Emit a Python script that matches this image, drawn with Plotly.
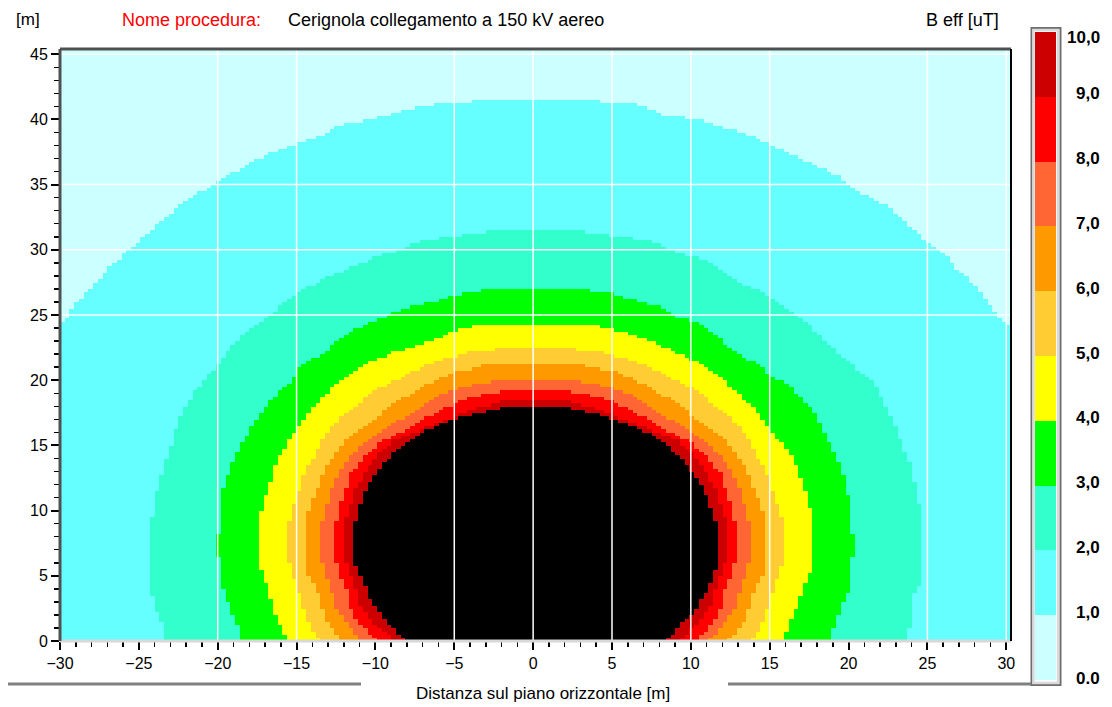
import numpy as np
import plotly.graph_objects as go

# ---------------- data ----------------
# Outlines (x [m], y [m]) of the regions where B eff >= k uT, k = 1..10
OUT_1 = list(zip(
    [-31, -30.0, -29.5, -29.1, -28.4, -27.8, -26.6, -25.7, -24.5, -23.4, -22.5, -21.0, -19.8, -18.5, -17.4, -15.4,
     -13.4, -12.0, -10.1, -9.0, -7.8, -6.5, -4.8, -1.4, 1.7, 5.1, 6.9, 8.1, 10.5, 12.3, 13.8, 15.1, 16.2, 17.7, 19.3,
     20.0, 21.2, 22.5, 23.4, 24.0, 24.7, 25.3, 26.4, 26.9, 27.9, 28.8, 29.4, 29.7, 30.1, 31, 31, -31],
    [24.3, 24.3, 24.9, 25.7, 26.7, 27.4, 29.0, 29.9, 31.2, 32.4, 33.3, 34.5, 35.3, 36.3, 37.0, 38.0, 38.8, 39.7, 40.0,
     40.4, 40.8, 41.1, 41.3, 41.6, 41.6, 41.3, 41.1, 40.4, 40.0, 39.3, 38.8, 38.0, 37.4, 36.6, 35.7, 35.0, 34.1, 33.3,
     32.4, 31.7, 30.9, 30.2, 29.3, 28.5, 27.4, 26.0, 25.0, 24.5, 24.3, 24.3, -1, -1]))

OUT_2 = list(zip(
    [-23.4, -23.4, -24.0, -24.3, -24.3, -24.0, -23.7, -23.3, -22.8, -22.5, -21.9, -21.3, -20.6, -20.0, -19.5, -18.9,
     -18.0, -16.2, -15.4, -14.5, -12.9, -11.4, -10.1, -8.7, -7.2, -4.8, -2.7, 3.0, 5.1, 7.6, 9.0, 11.1, 12.3, 13.2,
     14.1, 15.0, 16.2, 17.4, 18.0, 18.7, 19.8, 20.4, 21.6, 22.5, 23.1, 23.4, 24.0, 24.3, 24.6, 24.6, 24.0, 24.0, 23.7,
     23.7],
    [-1, 1.3, 2.6, 4.4, 8.5, 10.6, 12.3, 13.8, 15.6, 17.0, 18.3, 19.4, 20.3, 21.2, 22.0, 22.9, 23.9, 25.5, 26.3, 27.0,
     28.0, 28.7, 29.4, 29.9, 30.6, 31.1, 31.4, 31.4, 31.1, 30.6, 29.9, 29.1, 28.2, 27.4, 27.0, 26.3, 25.5, 24.4, 23.7,
     22.8, 21.6, 21.0, 19.8, 17.7, 16.2, 14.9, 13.3, 11.0, 9.9, 4.4, 3.5, 1.3, 0.8, -1]))

OUT_3 = list(zip(
    [-18.6, -18.6, -18.9, -19.2, -19.5, -19.8, -19.8, -20.1, -20.1, -19.8, -19.8, -19.5, -18.9, -18.0, -17.1, -16.2,
     -15.3, -14.7, -13.4, -12.5, -11.3, -10.5, -9.4, -8.1, -6.5, -5.6, -4.4, -2.7, 3.0, 4.8, 5.9, 6.9, 8.4, 9.0, 10.3,
     11.1, 12.0, 12.6, 14.1, 15.2, 16.5, 17.7, 18.4, 18.9, 19.3, 19.8, 20.0, 20.0, 20.4, 20.4, 20.0, 20.0, 19.8, 19.4,
     19.3, 18.9, 18.9],
    [-1, 0.8, 1.6, 2.6, 3.3, 4.5, 6.4, 6.4, 8.3, 8.3, 11.0, 12.3, 14.1, 16.2, 17.7, 19.1, 19.9, 21.2, 22.0, 22.9, 23.9,
     24.3, 24.9, 25.5, 26.0, 26.3, 26.7, 27.0, 27.0, 26.7, 26.3, 26.0, 25.5, 24.9, 24.5, 23.9, 23.0, 22.3, 21.3, 20.3,
     19.3, 17.7, 16.2, 14.9, 14.0, 12.3, 11.0, 8.3, 8.3, 6.4, 6.4, 3.9, 3.3, 2.6, 1.6, 0.8, -1]))

OUT_4 = list(zip(
    [-15.7, -15.7, -15.9, -16.2, -16.5, -16.8, -17.1, -17.4, -17.4, -17.1, -16.8, -16.5, -16.2, -15.5, -15.1, -14.1,
     -13.0, -12.2, -11.1, -10.0, -8.7, -7.5, -6.3, -5.3, -4.2, -2.7, 3.0, 4.5, 5.6, 6.7, 7.8, 9.0, 9.6, 10.5, 11.7,
     12.8, 14.1, 15.0, 16.0, 16.6, 17.0, 17.4, 17.7, 17.7, 17.4, 17.1, 16.7, 16.2, 15.9, 15.9],
    [-1, 0.2, 1.0, 1.6, 2.6, 3.9, 5.2, 5.6, 9.5, 10.5, 11.8, 12.9, 14.1, 15.3, 16.2, 17.7, 19.1, 20.0, 21.0, 21.6, 22.2,
     22.6, 23.1, 23.7, 24.1, 24.3, 24.3, 24.1, 23.7, 23.4, 22.8, 22.2, 21.9, 21.3, 20.3, 19.3, 17.7, 16.2, 14.9, 13.7,
     12.3, 11.0, 9.5, 5.4, 5.2, 3.9, 2.6, 1.3, 0.2, -1]))

OUT_5 = [(-13.5, -1), (-13.5, 0.0), (-14.2, 1.3), (-14.6, 2.6), (-14.9, 3.9), (-15.3, 5.2), (-15.5, 6.4),
         (-15.5, 9.0), (-15.2, 10.3), (-14.8, 11.6), (-14.5, 12.9), (-13.9, 14.1), (-13.4, 15.4), (-12.6, 16.7),
         (-11.6, 17.7), (-10.8, 18.5), (-9.9, 19.3), (-8.7, 20.0), (-7.6, 20.7), (-6.8, 21.2), (-5.7, 21.6),
         (-4.0, 22.2), (-2.3, 22.4),
         (2.6, 22.4), (4.3, 22.2), (6.0, 21.6), (7.1, 21.2), (7.9, 20.7), (9.0, 20.0), (10.2, 19.3), (11.1, 18.5),
         (11.9, 17.7), (12.9, 16.7), (13.7, 15.4), (14.2, 14.1), (14.8, 12.9), (15.1, 11.6), (15.5, 10.3),
         (15.9, 9.0), (15.9, 6.4), (15.6, 5.2), (15.2, 3.9), (14.9, 2.6), (14.5, 1.3), (13.8, 0.0), (13.8, -1)]

OUT_6 = [(-12.2, -1), (-12.2, 0.0), (-13.0, 1.3), (-13.4, 2.6), (-13.7, 3.9), (-14.3, 5.2), (-14.5, 6.4),
         (-14.5, 9.0), (-14.2, 10.3), (-13.7, 11.6), (-13.3, 12.9), (-12.7, 14.1), (-11.9, 15.4), (-10.8, 16.5),
         (-9.9, 17.2), (-9.1, 18.0), (-8.3, 18.6), (-7.4, 19.3), (-6.4, 19.9), (-5.1, 20.6), (-3.9, 20.9),
         (-2.9, 21.2),
         (3.2, 21.2), (4.2, 20.9), (5.4, 20.6), (6.7, 19.9), (7.7, 19.3), (8.6, 18.6), (9.4, 18.0), (10.2, 17.2),
         (11.1, 16.5), (12.2, 15.4), (13.0, 14.1), (13.6, 12.9), (14.0, 11.6), (14.5, 10.3), (14.8, 9.0),
         (14.8, 6.4), (14.6, 5.2), (14.0, 3.9), (13.7, 2.6), (13.3, 1.3), (12.3, 0.0), (12.3, -1)]

OUT_7 = [(-10.9, -1), (-10.9, 0.0), (-11.8, 1.3), (-12.5, 2.6), (-12.8, 3.9), (-13.2, 5.2), (-13.4, 6.4),
         (-13.4, 9.0), (-13.1, 10.3), (-12.8, 11.6), (-12.3, 12.9), (-11.6, 14.1), (-10.6, 15.4), (-9.1, 16.5),
         (-8.1, 17.2), (-7.0, 18.0), (-6.5, 18.5), (-5.7, 19.0), (-4.4, 19.5), (-2.3, 20.0),
         (2.6, 20.0), (4.7, 19.5), (6.0, 19.0), (6.8, 18.5), (7.3, 18.0), (8.4, 17.2), (9.4, 16.5), (10.9, 15.4),
         (11.9, 14.1), (12.6, 12.9), (13.1, 11.6), (13.4, 10.3), (13.7, 9.0), (13.7, 6.4), (13.5, 5.2),
         (13.1, 3.9), (12.8, 2.6), (12.1, 1.3), (11.1, 0.0), (11.1, -1)]

OUT_8 = [(-9.9, -1), (-9.9, 0.0), (-11.0, 1.3), (-11.6, 2.6), (-11.8, 3.9), (-12.3, 5.2), (-12.5, 6.4),
         (-12.5, 9.0), (-12.3, 10.3), (-11.9, 11.6), (-11.6, 12.9), (-10.7, 14.1), (-9.5, 15.4), (-8.0, 16.2),
         (-7.0, 17.0), (-6.1, 17.6), (-4.9, 18.3), (-3.6, 18.8), (-1.7, 19.2),
         (2.0, 19.2), (3.9, 18.8), (5.2, 18.3), (6.4, 17.6), (7.3, 17.0), (8.3, 16.2), (9.8, 15.4), (11.0, 14.1),
         (11.9, 12.9), (12.2, 11.6), (12.6, 10.3), (12.8, 9.0), (12.8, 6.4), (12.6, 5.2), (12.1, 3.9),
         (11.9, 2.6), (11.3, 1.3), (10.3, 0.0), (10.3, -1)]

OUT_9 = [(-8.8, -1), (-8.8, 0.0), (-10.0, 1.3), (-10.9, 2.6), (-11.2, 3.9), (-11.6, 5.2), (-12.0, 6.4),
         (-12.0, 9.0), (-11.6, 10.3), (-11.3, 11.6), (-10.7, 12.9), (-10.0, 14.1), (-8.9, 15.4), (-6.5, 16.5),
         (-5.5, 17.0), (-4.4, 17.5), (-3.2, 18.0), (-1.7, 18.5),
         (2.0, 18.5), (3.5, 18.0), (4.7, 17.5), (5.8, 17.0), (6.8, 16.5), (9.2, 15.4), (10.3, 14.1), (11.0, 12.9),
         (11.6, 11.6), (11.9, 10.3), (12.3, 9.0), (12.3, 6.4), (11.9, 5.2), (11.5, 3.9), (11.2, 2.6),
         (10.3, 1.3), (9.3, 0.0), (9.3, -1)]

OUT_10 = [(-8.2, -1), (-8.2, 0.1), (-8.6, 0.6), (-9.0, 1.1), (-9.5, 1.8), (-10.0, 2.6), (-10.4, 3.3),
          (-10.7, 4.3), (-11.05, 5.2), (-11.35, 6.0), (-11.35, 8.7), (-11.05, 10.2), (-10.6, 11.7), (-10.0, 12.9),
          (-9.3, 13.9), (-8.6, 14.8), (-7.6, 15.6), (-6.6, 16.3), (-5.5, 16.8), (-4.2, 17.3), (-3.0, 17.6),
          (-1.7, 18.0),
          (2.0, 18.0), (3.3, 17.6), (4.5, 17.3), (5.6, 16.8), (6.9, 16.2), (7.6, 15.7), (8.4, 15.2), (8.8, 14.6),
          (9.4, 14.0), (9.9, 13.3), (10.5, 12.3), (10.9, 11.3), (11.2, 10.3), (11.5, 9.3), (11.8, 8.3),
          (11.8, 6.1), (11.5, 5.3), (11.2, 4.4), (10.9, 3.7), (10.5, 2.9), (10.1, 2.1), (9.4, 1.5), (9.0, 0.8),
          (8.5, 0.1), (8.5, -1)]

OUTLINES = [OUT_1, OUT_2, OUT_3, OUT_4, OUT_5, OUT_6, OUT_7, OUT_8, OUT_9, OUT_10]

BAND_COLORS = ["#ccffff", "#66ffff", "#33ffcc", "#00ff00", "#ffff00",
               "#ffcc33", "#ff9900", "#ff6633", "#ff0000", "#cc0000"]
ABOVE_COLOR = "#000000"
CB_LABELS = ["0.0", "1,0", "2,0", "3,0", "4,0", "5,0", "6,0", "7,0", "8,0", "9,0", "10,0"]

X_GRID = [-20, -15, -5, 0, 5, 10, 15, 25, 30]
Y_GRID = [25, 30, 35, 45]

TITLE_LABEL = "Nome procedura:"
TITLE_TEXT = "Cerignola collegamento a 150 kV aereo"
X_TITLE = "Distanza sul piano orizzontale [m]"
Y_UNIT = "[m]"
Z_TITLE = "B eff [uT]"

# ---------------- build the field grid ----------------
XMIN, XMAX, YMIN, YMAX = -30.0, 30.3, 0.0, 45.4
DX, DY = 0.3, 0.25
xs = np.arange(XMIN + DX / 2, XMAX + DX, DX)
ys = np.arange(YMIN + DY / 2, YMAX + DY, DY)
XX, YY = np.meshgrid(xs, ys)


def inside(poly, X, Y):
    px = np.array([p[0] for p in poly], float)
    py = np.array([p[1] for p in poly], float)
    res = np.zeros(X.shape, bool)
    j = len(px) - 1
    for i in range(len(px)):
        xi, yi, xj, yj = px[i], py[i], px[j], py[j]
        cond = (yi > Y) != (yj > Y)
        if yj != yi:
            xint = (xj - xi) * (Y - yi) / (yj - yi) + xi
            res ^= cond & (X < xint)
        j = i
    return res


count = np.zeros(XX.shape, int)
for poly in OUTLINES:
    count += inside(poly, XX, YY).astype(int)

z_band = np.where(count < 10, count + 0.5, np.nan)
z_top = np.where(count >= 10, 1.0, np.nan)

colorscale = []
n = len(BAND_COLORS)
for i, c in enumerate(BAND_COLORS):
    colorscale.append([i / n, c])
    colorscale.append([(i + 1) / n, c])

# ---------------- geometry helpers (pixels -> paper) ----------------
W, H = 1112, 707
L_PX, R_PX, T_PX, B_PX = 60, 1011, 49, 641


def fx(px):
    return (px - L_PX) / (R_PX - L_PX)


def fy(py):
    return (B_PX - py) / (B_PX - T_PX)


CB_LEFT, CB_TOP, CB_LEN, CB_THICK = 1035, 32, 648, 21
FONT = "Liberation Sans, Arial, sans-serif"

fig = go.Figure()
fig.add_trace(go.Heatmap(
    x=xs, y=ys, z=z_band, zmin=0, zmax=10, colorscale=colorscale, hoverinfo="skip",
    colorbar=dict(
        x=fx(CB_LEFT), xanchor="left", xpad=0,
        y=fy(CB_TOP), yanchor="top", ypad=0,
        len=CB_LEN, lenmode="pixels", thickness=CB_THICK, thicknessmode="pixels",
        outlinewidth=0, showticklabels=False, ticks="",
    ),
))
fig.add_trace(go.Heatmap(
    x=xs, y=ys, z=z_top, zmin=0, zmax=1, showscale=False, hoverinfo="skip",
    colorscale=[[0, ABOVE_COLOR], [1, ABOVE_COLOR]],
))

shapes = []
for gx in X_GRID:
    shapes.append(dict(type="line", xref="x", yref="paper", x0=gx, x1=gx, y0=0, y1=1,
                       line=dict(color="white", width=1.5)))
for gy in Y_GRID:
    shapes.append(dict(type="line", xref="paper", yref="y", x0=0, x1=1, y0=gy, y1=gy,
                       line=dict(color="white", width=1.5)))
# frame of plot area
shapes += [
    dict(type="line", xref="paper", yref="paper", x0=0, x1=1, y0=0, y1=0, line=dict(color="#d8d8d8", width=3)),
    dict(type="line", xref="paper", yref="paper", x0=0, x1=1, y0=1, y1=1, line=dict(color="#505050", width=3)),
    dict(type="line", xref="paper", yref="paper", x0=0, x1=0, y0=0, y1=1, line=dict(color="#505050", width=3)),
    dict(type="line", xref="paper", yref="paper", x0=1, x1=1, y0=0, y1=1, line=dict(color="#000000", width=2)),
]
# colorbar frame
shapes += [
    dict(type="rect", xref="paper", yref="paper", x0=fx(1031.5), x1=fx(1060.5), y0=fy(685), y1=fy(28),
         line=dict(color="#6e6e6e", width=2)),
    dict(type="rect", xref="paper", yref="paper", x0=fx(1033.5), x1=fx(1058), y0=fy(683), y1=fy(30),
         line=dict(color="#dadada", width=2.5)),
]
# decorative lines around x title
shapes += [
    dict(type="line", xref="paper", yref="paper", x0=fx(8), x1=fx(361), y0=fy(684), y1=fy(684),
         line=dict(color="#808080", width=3)),
    dict(type="line", xref="paper", yref="paper", x0=fx(728), x1=fx(1031), y0=fy(684), y1=fy(684),
         line=dict(color="#808080", width=3)),
]

annotations = [
    dict(text=Y_UNIT, x=fx(28), y=fy(19), xref="paper", yref="paper", showarrow=False,
         xanchor="center", yanchor="middle", font=dict(family=FONT, size=17, color="black")),
    dict(text=TITLE_LABEL, x=fx(120), y=fy(20), xref="paper", yref="paper", showarrow=False,
         xanchor="left", yanchor="middle", font=dict(family=FONT, size=18, color="#ff0000")),
    dict(text=TITLE_TEXT, x=fx(286), y=fy(20), xref="paper", yref="paper", showarrow=False,
         xanchor="left", yanchor="middle", font=dict(family=FONT, size=18, color="black")),
    dict(text=Z_TITLE, x=fx(1001), y=fy(20), xref="paper", yref="paper", showarrow=False,
         xanchor="right", yanchor="middle", font=dict(family=FONT, size=18, color="black")),
    dict(text=X_TITLE, x=fx(543), y=fy(693), xref="paper", yref="paper", showarrow=False,
         xanchor="center", yanchor="middle", font=dict(family=FONT, size=17, color="black")),
]
step = CB_LEN / (len(CB_LABELS) - 1)
for k, lab in enumerate(CB_LABELS):
    py = CB_TOP + CB_LEN - k * step
    if k == 0:
        py -= 2
    elif k == len(CB_LABELS) - 1:
        py += 6
    else:
        py -= 3
    annotations.append(dict(text=lab, x=fx(1102), y=fy(py), xref="paper", yref="paper", showarrow=False,
                            xanchor="right", yanchor="middle",
                            font=dict(family=FONT, size=17, color="black", weight="bold")))

axis_common = dict(showgrid=False, zeroline=False, showline=False, ticks="outside", ticklen=8, tickwidth=2,
                   tickcolor="black", tickfont=dict(family=FONT, size=16, color="black"),
                   minor=dict(dtick=1, ticks="outside", ticklen=5, tickwidth=1.5, tickcolor="black",
                              showgrid=False))

fig.update_layout(
    width=W, height=H,
    margin=dict(l=L_PX, r=W - R_PX, t=T_PX, b=H - B_PX, autoexpand=False),
    paper_bgcolor="white", plot_bgcolor="white",
    xaxis=dict(range=[XMIN, XMAX], tick0=0, dtick=5, fixedrange=True, **axis_common),
    yaxis=dict(range=[YMIN, YMAX], tick0=0, dtick=5, fixedrange=True, **axis_common),
    shapes=shapes, annotations=annotations, showlegend=False,
)

fig.write_html("out.html",
               config={"displayModeBar": False, "staticPlot": True},
               post_script="document.body.style.margin='0px';document.body.style.padding='0px';"
                           "document.body.style.overflow='hidden';")
